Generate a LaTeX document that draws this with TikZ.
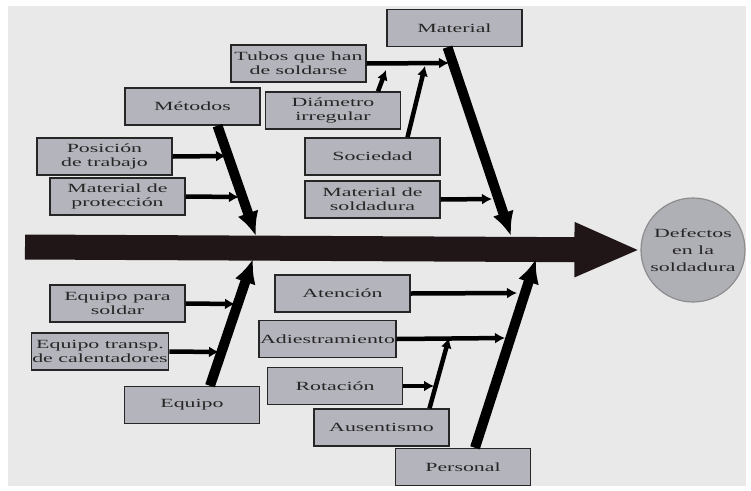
\documentclass[tikz,border=0pt]{standalone}
\usepackage{fontspec}
\setmainfont[FakeStretch=1.75]{Liberation Serif}
\usepackage{tikz}
\usetikzlibrary{shapes,positioning,arrows,arrows.meta}

\definecolor{bgcol}{RGB}{233,233,233}
\definecolor{boxcol}{RGB}{180,180,188}
\definecolor{spinecol}{RGB}{32,22,24}

\begin{document}
\begin{tikzpicture}[x=1pt,y=-1pt,line width=1pt]
\tikzstyle{cause} = [draw=black!85, line width=1.4pt, fill=boxcol, shape=rectangle, minimum height=37pt, minimum width=135pt, inner sep=1pt, align=center, font=\rmfamily\fontsize{12.5}{14}\selectfont, text=black!85]
\tikzstyle{effect} = [draw=black!45, line width=1.2pt, fill=boxcol!90!gray, shape=circle, minimum size=104pt, inner sep=0pt, align=center, font=\rmfamily\fontsize{12.5}{17}\selectfont, text=black!85]
\tikzstyle{bone} = [line width=10pt, -{Latex[length=24pt,width=22pt]}]
\tikzstyle{twig} = [line width=4.5pt, -{Latex[length=10pt,width=11pt]}]

\useasboundingbox (0,0) rectangle (751,490);
\fill[bgcol] (8,6) rectangle (746,486);

% Spine
\node [effect] at (693,250) (defectos) {Defectos\\en la\\soldadura};
\coordinate (tail) at (25,247);
\draw[line width=25pt, spinecol, -{Triangle[length=66pt,width=50pt]}] (tail) -- (defectos.west);

% Metodos
\node [cause] at (192.5,106.5) (metodos) {Métodos};
\node [cause] at (104.5,156.5) (posicion) {Posición\\de trabajo};
\node [cause] at (117.5,196.5) (proteccion) {Material de\\protección};
\coordinate (bmet) at (256,236);
\coordinate (tpos) at (226,156);
\coordinate (tpro) at (239,197);
\draw[bone] ([xshift=25pt]metodos.south) -- (bmet);
\draw[twig] (posicion.east) -- (tpos);
\draw[twig] (proteccion.east) -- (tpro);

% Material
\node [cause] at (454.5,28) (material) {Material};
\node [cause] at (298.5,63.5) (tubos) {Tubos que han\\de soldarse};
\node [cause] at (333,110.5) (diametro) {Diámetro\\irregular};
\node [cause] at (372.5,156.5) (sociedad) {Sociedad};
\node [cause] at (372.5,199.5) (soldadura) {Material de\\soldadura};
\coordinate (bmat) at (511,236);
\coordinate (ttub) at (449,63);
\coordinate (tdia) at (386,70);
\coordinate (tsoc) at (425,66);
\coordinate (tsol) at (492,199);
\draw[bone] ([xshift=-7pt]material.south) -- (bmat);
\draw[twig] (tubos.east) -- (ttub);
\draw[twig] ([xshift=45pt]diametro.north) -- (tdia);
\draw[twig] ([xshift=35pt]sociedad.north) -- (tsoc);
\draw[twig] (soldadura.east) -- (tsol);

% Equipo
\node [cause] at (192,405) (equipo) {Equipo};
\node [cause] at (117.5,303.5) (eqsoldar) {Equipo para\\soldar};
\node [cause] at (100,351.5) (eqtransp) {Equipo transp.\\de calentadores};
\coordinate (bequ) at (253,259);
\coordinate (tesd) at (235,304);
\coordinate (tetr) at (219,352);
\draw[bone] ([xshift=18pt]equipo.north) -- (bequ);
\draw[twig] (eqsoldar.east) -- (tesd);
\draw[twig] (eqtransp.east) -- (tetr);

% Personal
\node [cause] at (463,467) (personal) {Personal};
\node [cause] at (342.5,293.5) (atencion) {Atención};
\node [cause] at (327.5,339) (adiestra) {Adiestramiento};
\node [cause] at (335,386) (rotacion) {Rotación};
\node [cause] at (381.5,427.5) (ausentismo) {Ausentismo};
\coordinate (bper) at (536,259);
\coordinate (tate) at (517,293);
\coordinate (tadi) at (505,338);
\coordinate (trot) at (434,386);
\coordinate (taus) at (449,338);
\draw[bone] ([xshift=12pt]personal.north) -- (bper);
\draw[twig] (atencion.east) -- (tate);
\draw[twig] (adiestra.east) -- (tadi);
\draw[twig] (rotacion.east) -- (trot);
\draw[twig] ([xshift=48pt]ausentismo.north) -- (taus);

\end{tikzpicture}
\end{document}
